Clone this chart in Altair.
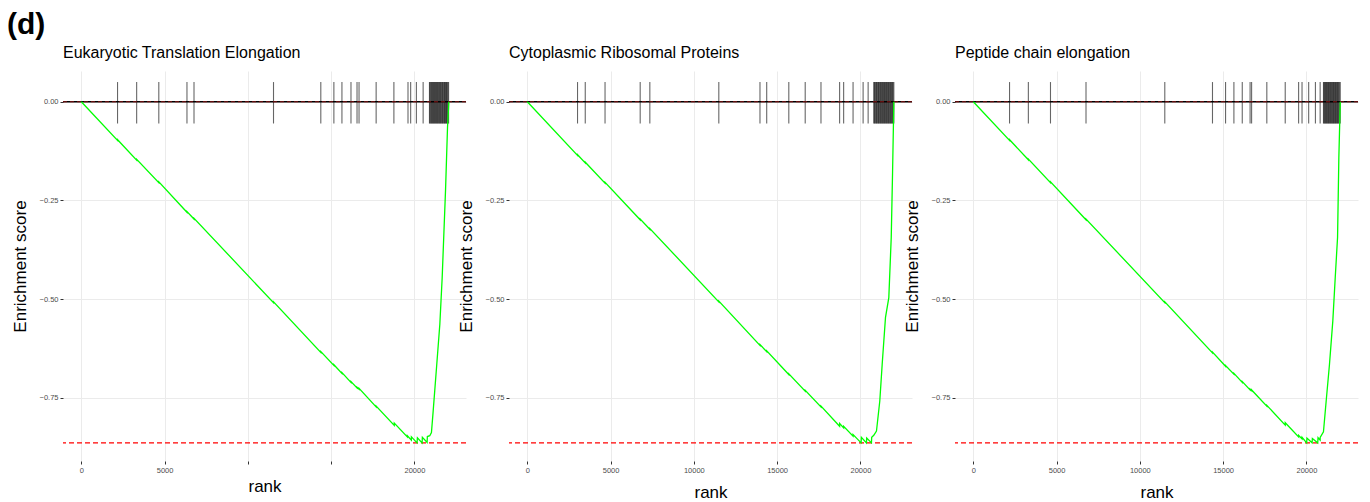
import altair as alt
import pandas as pd

# ---------------- data ----------------
titles = ["Eukaryotic Translation Elongation", "Cytoplasmic Ribosomal Proteins", "Peptide chain elongation"]

ranks1 = [0, 2175, 2176, 3323, 3324, 4653, 4654, 6344, 6345, 6767, 6768, 11541, 11542, 14381, 14382,
          15166, 15167, 15650, 15651, 16193, 16194, 16556, 16557, 16677, 16678, 17704, 17705, 18792, 18793,
          19577, 19578, 19819, 19820, 20160, 20181, 20464, 20480, 20765, 20780, 20925, 21025, 21130, 21330,
          21530, 21670, 21870, 21990, 22070]
es1 = [0, -0.098, -0.096, -0.148, -0.146, -0.205, -0.203, -0.280, -0.278, -0.297, -0.295, -0.509, -0.507,
       -0.635, -0.633, -0.668, -0.666, -0.688, -0.686, -0.711, -0.709, -0.725, -0.723, -0.728, -0.726, -0.773,
       -0.771, -0.820, -0.814, -0.849, -0.846, -0.857, -0.849, -0.864, -0.851, -0.864, -0.850, -0.863, -0.848,
       -0.846, -0.838, -0.783, -0.673, -0.563, -0.445, -0.225, -0.065, 0.0]
hits1 = [2175, 3323, 4653, 6344, 6767, 11541, 14381, 15166, 15650, 16193, 16556, 16677, 17704, 18770,
         19617, 19777, 20121, 20526,
         20906, 20941, 20985, 21019, 21062, 21098, 21141, 21177, 21214, 21262, 21298, 21335, 21381, 21415,
         21458, 21497, 21533, 21576, 21612, 21655, 21694, 21731, 21776, 21812, 21853, 21889, 21928, 21966,
         22007, 22054]

ranks2 = [0, 3015, 3016, 3479, 3480, 4667, 4668, 6778, 6779, 7357, 7358, 11499, 11500, 13971, 13972,
          14375, 14376, 15702, 15703, 16687, 16688, 17634, 17635, 18753, 18754, 18995, 18996, 19561, 19562,
          20043, 20060, 20363, 20380, 20665, 20680, 20804, 20967, 21166, 21310, 21509, 21708, 21853, 21931, 22010]
es2 = [0, -0.136, -0.134, -0.155, -0.153, -0.206, -0.204, -0.299, -0.297, -0.323, -0.321, -0.507, -0.505,
       -0.617, -0.615, -0.633, -0.631, -0.691, -0.689, -0.733, -0.731, -0.773, -0.771, -0.822, -0.815, -0.826,
       -0.822, -0.847, -0.843, -0.864, -0.850, -0.864, -0.852, -0.864, -0.850, -0.845, -0.834, -0.758, -0.665,
       -0.546, -0.496, -0.344, -0.183, 0.0]
hits2 = [3015, 3479, 4667, 6778, 7357, 11499, 13971, 14375, 15702, 16687, 17634, 18753, 18995, 19561,
         20164, 20466,
         20804, 20843, 20881, 20926, 20964, 21002, 21047, 21085, 21121, 21166, 21203, 21245, 21284, 21322,
         21365, 21401, 21446, 21483, 21522, 21564, 21603, 21641, 21686, 21722, 21764, 21803, 21845, 21883,
         21924, 21966, 22010]

ranks3 = [0, 2175, 2176, 3305, 3306, 4634, 4635, 6767, 6768, 11498, 11499, 14362, 14363, 15147, 15148,
          15648, 15649, 16150, 16151, 16620, 16621, 16711, 16712, 17625, 17626, 18730, 18731, 19534, 19535,
          19739, 19740, 20017, 20035, 20343, 20360, 20682, 20700, 20827, 20828, 21026, 21189, 21388, 21588,
          21733, 21872, 21950, 22035]
es3 = [0, -0.098, -0.096, -0.147, -0.145, -0.205, -0.203, -0.299, -0.297, -0.509, -0.507, -0.636, -0.634,
       -0.670, -0.668, -0.690, -0.688, -0.711, -0.709, -0.730, -0.728, -0.732, -0.730, -0.771, -0.769, -0.819,
       -0.813, -0.849, -0.845, -0.854, -0.850, -0.864, -0.852, -0.864, -0.853, -0.864, -0.851, -0.857, -0.850,
       -0.836, -0.758, -0.665, -0.555, -0.445, -0.344, -0.141, 0.0]
hits3 = [2175, 3305, 4634, 6767, 11498, 14362, 15147, 15648, 16150, 16620, 16711, 17625, 18730, 19534,
         19739, 20138, 20543, 20827,
         21026, 21061, 21099, 21137, 21172, 21214, 21251, 21289, 21326, 21365, 21402, 21441, 21478, 21519,
         21556, 21594, 21633, 21670, 21709, 21746, 21787, 21824, 21863, 21900, 21941, 21978, 22035]

x_ticks = [0, 5000, 10000, 15000, 20000]
y_ticks = [0, -0.25, -0.5, -0.75]

# ---------------- chart ----------------
FONT = "Liberation Sans"
XDOM = [-1100, 23100]
YDOM = [-0.91, 0.078]
W, H = 403, 390


def panel(title, ranks, es, hits, first):
    xs = alt.Scale(domain=XDOM, nice=False, zero=False)
    ys = alt.Scale(domain=YDOM, nice=False, zero=False)
    label_expr = ("datum.value == 10000 || datum.value == 15000 ? '' : datum.label"
                  if first else "datum.label")
    xaxis = alt.Axis(values=x_ticks, format="d", title="rank", labelExpr=label_expr,
                     titlePadding=5 if first else 11)
    yaxis = alt.Axis(values=y_ticks, format=".2f", title="Enrichment score", titlePadding=10)
    x = alt.X("rank:Q", scale=xs, axis=xaxis)
    y = alt.Y("es:Q", scale=ys, axis=yaxis)

    curve = pd.DataFrame({"rank": ranks, "es": es})
    hitdf = pd.DataFrame({"rank": hits})

    bars = alt.Chart(hitdf).mark_rule(color="black", opacity=0.6, strokeWidth=1.1).encode(
        x=x,
        y=alt.YDatum(0.05, scale=ys, axis=yaxis),
        y2=alt.Y2Datum(-0.055),
    )
    zero_black = alt.Chart(pd.DataFrame({"es": [0.0]})).mark_rule(
        color="black", strokeWidth=1.6).encode(y=y)
    zero_red = alt.Chart(pd.DataFrame({"es": [max(es)]})).mark_rule(
        color="#d62020", strokeDash=[4, 3], strokeWidth=0.8, opacity=0.8).encode(y=y)
    min_red = alt.Chart(pd.DataFrame({"es": [min(es)]})).mark_rule(
        color="#ff0000", strokeDash=[5, 3], strokeWidth=1.4).encode(y=y)
    line = alt.Chart(curve).mark_line(color="#00ff00", strokeWidth=1.3).encode(x=x, y=y)

    return alt.layer(bars, zero_black, zero_red, min_red, line).properties(
        width=W, height=H,
        title=alt.TitleParams(title, anchor="start", frame="group", fontSize=16, fontWeight="normal",
                              font=FONT, color="black", offset=10),
    )


p1 = panel(titles[0], ranks1, es1, hits1, True)
p2 = panel(titles[1], ranks2, es2, hits2, False)
p3 = panel(titles[2], ranks3, es3, hits3, False)

chart = alt.hconcat(p1, p2, p3, spacing=-10).properties(
    title=alt.TitleParams("(d)", anchor="start", fontSize=30, fontWeight="bold", font=FONT,
                          color="black", dx=-4, offset=5),
    padding={"left": 7, "top": 10, "right": 5, "bottom": 0},
).configure_view(stroke=None).configure_axis(
    grid=True, gridColor="#ebebeb", gridWidth=1, domain=False,
    tickColor="#333333", tickSize=3, tickWidth=1,
    labelColor="#4d4d4d", labelFontSize=7.5, labelFont=FONT, labelPadding=2,
    titleFontSize=17, titleFontWeight="normal", titleColor="black", titleFont=FONT,
)

chart.save("out.html", embed_options={"renderer": "svg", "actions": False})
